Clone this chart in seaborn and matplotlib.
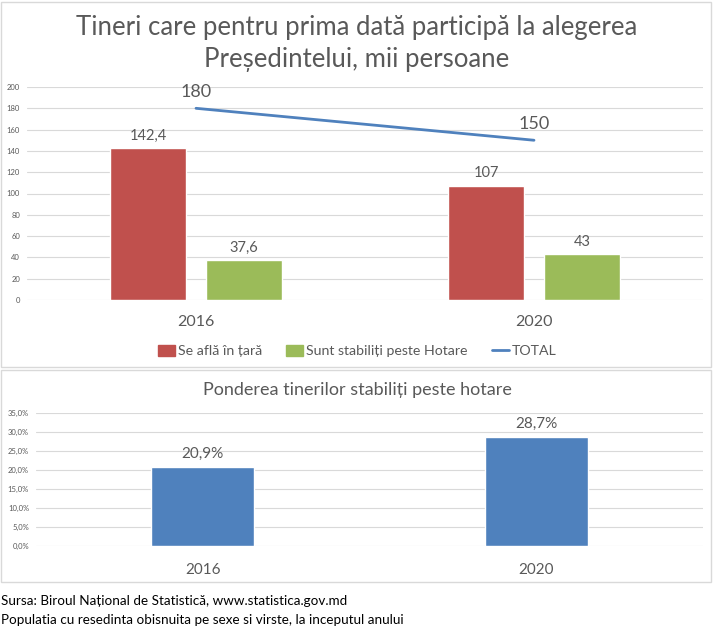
import pandas as pd
import seaborn as sns
import matplotlib.pyplot as plt
from matplotlib.patches import Patch, Rectangle
from matplotlib.lines import Line2D

# date (mii persoane)
years = ['2016', '2020']
in_tara = [142.4, 107]
peste_hotare = [37.6, 43]
total = [180, 150]
pondere = [20.9, 28.7]
pondere_ticks = [0, 5, 10, 15, 20, 25, 30, 35]

serie_names = ['Se află în țară', 'Sunt stabiliți peste Hotare']
c_red = '#C0504D'
c_green = '#9BBB59'
c_blue = '#4F81BD'
c_text = '#595959'
c_grid = '#D9D9D9'

def fmt(v):
    return f'{v:g}'.replace('.', ',')

sns.set_theme(style='white')
plt.rcParams['font.family'] = ['Lato', 'DejaVu Sans']

fig = plt.figure(figsize=(7.14, 6.3), dpi=100)

# chenare
fig.patches.append(Rectangle((0.001, 1 - 367 / 630), 0.995, 365 / 630, transform=fig.transFigure,
                             fill=False, edgecolor=c_grid, linewidth=1))
fig.patches.append(Rectangle((0.001, 1 - 582 / 630), 0.995, 212 / 630, transform=fig.transFigure,
                             fill=False, edgecolor=c_grid, linewidth=1))

# ---------------- grafic sus
df = pd.DataFrame({'an': years * 2,
                   'valoare': in_tara + peste_hotare,
                   'serie': [serie_names[0]] * 2 + [serie_names[1]] * 2})

ax1 = fig.add_axes([27 / 714, 1 - 300 / 630, 676 / 714, 213 / 630])
sns.barplot(data=df, x='an', y='valoare', hue='serie', palette=[c_red, c_green], saturation=1,
            width=0.568, gap=0.218, ax=ax1, legend=False, zorder=3)
sns.pointplot(x=years, y=total, color=c_blue, markers='', linewidth=2,
              errorbar=None, ax=ax1, zorder=4)
for cont in ax1.containers:
    ax1.bar_label(cont, labels=[fmt(b.get_height()) for b in cont], padding=4,
                  fontsize=10.5, color=c_text)
for i, t in enumerate(total):
    ax1.annotate(fmt(t), (i, t), xytext=(0, 12), textcoords='offset points',
                 ha='center', va='center', fontsize=13, color=c_text)

ax1.set_ylim(0, 200)
ax1.set_xlim(-0.5, 1.5)
ax1.set_yticks(range(0, 201, 20))
ax1.yaxis.grid(True, color=c_grid, linewidth=0.8, zorder=0)
ax1.set_axisbelow(True)
for s in ax1.spines.values():
    s.set_visible(False)
ax1.set_xlabel('')
ax1.set_ylabel('')
ax1.tick_params(axis='y', labelsize=5.5, labelcolor=c_text, pad=5, length=0)
ax1.tick_params(axis='x', labelsize=11.5, labelcolor=c_text, pad=11, length=0)

fig.text(0.5, 1 - 27 / 630, 'Tineri care pentru prima dată participă la alegerea',
         ha='center', va='center', fontsize=18.5, color=c_text)
fig.text(0.5, 1 - 60 / 630, 'Președintelui, mii persoane',
         ha='center', va='center', fontsize=18.5, color=c_text)

handles = [Patch(color=c_red), Patch(color=c_green), Line2D([], [], color=c_blue, linewidth=2)]
fig.legend(handles, serie_names + ['TOTAL'], loc='center', bbox_to_anchor=(0.5, 1 - 351 / 630),
           ncol=3, frameon=False, fontsize=10.2, labelcolor=c_text, handlelength=1.2,
           handleheight=0.9, handletextpad=0.2, columnspacing=1.7)

# ---------------- grafic jos
ax2 = fig.add_axes([36 / 714, 1 - 546 / 630, 667 / 714, 133 / 630])
sns.barplot(x=years, y=pondere, color=c_blue, saturation=1, width=0.31, ax=ax2, zorder=3)
ax2.bar_label(ax2.containers[0], labels=[fmt(v) + '%' for v in pondere], padding=4,
              fontsize=11, color=c_text)
ax2.set_ylim(0, 35)
ax2.set_xlim(-0.5, 1.5)
ax2.set_yticks(pondere_ticks)
ax2.set_yticklabels([f'{v:.1f}'.replace('.', ',') + '%' for v in pondere_ticks])
ax2.yaxis.grid(True, color=c_grid, linewidth=0.8, zorder=0)
ax2.set_axisbelow(True)
for s in ax2.spines.values():
    s.set_visible(False)
ax2.tick_params(axis='y', labelsize=5.5, labelcolor=c_text, pad=5, length=0)
ax2.tick_params(axis='x', labelsize=11, labelcolor=c_text, pad=12, length=0)

fig.text(0.5, 1 - 390 / 630, 'Ponderea tinerilor stabiliți peste hotare',
         ha='center', va='center', fontsize=13, color=c_text)

# sursa
fig.text(0.002, 1 - 601 / 630, 'Sursa: Biroul Național de Statistică, www.statistica.gov.md',
         ha='left', va='center', fontsize=9.7, color='black')
fig.text(0.002, 1 - 620 / 630, 'Populatia cu resedinta obisnuita pe sexe si virste, la inceputul anului',
         ha='left', va='center', fontsize=9.7, color='black')

fig.savefig('out.png', dpi=100)
